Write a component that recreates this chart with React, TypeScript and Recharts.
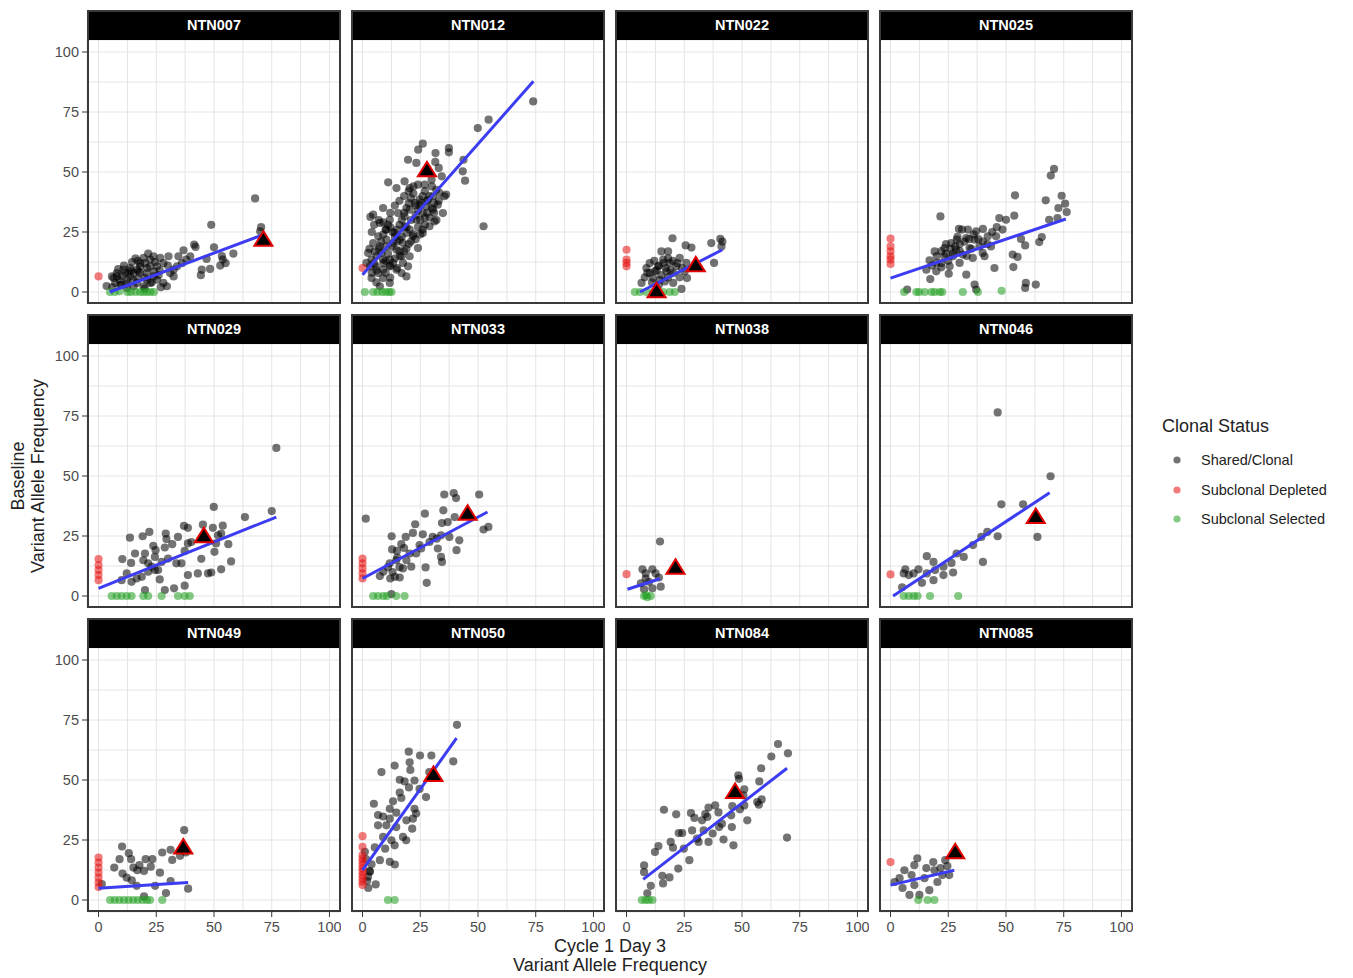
import React from 'react';
import { ScatterChart, Scatter, XAxis, YAxis, CartesianGrid } from 'recharts';

type Pt = [number, number];

const TICKS = [0, 12.5, 25, 37.5, 50, 62.5, 75, 87.5, 100];
const MAJOR = [0, 25, 50, 75, 100];

const statusLabels = ['Shared/Clonal', 'Subclonal Depleted', 'Subclonal Selected'];
const statusColors = ['#000000', '#e60f0f', '#1f9e1f'];

// values: [cycle 1 day 3 VAF, baseline VAF]
const ntn007Clonal: Pt[] = [
  [67.8, 39], [48.8, 28], [70.4, 27], [70, 25.3], [41.4, 19.7], [42, 18.8], [50, 18.6], [36.8, 17.4],
  [58.4, 16], [53.4, 15], [53.8, 13.5], [52.7, 11], [44.7, 9.3], [48.3, 9.6], [44.3, 7], [34, 10.7],
  [30.3, 14.9], [28.1, 12], [26.7, 14.2], [23.8, 14.9], [22.4, 13.5], [20.2, 12], [18, 10.7], [16.6, 9.3],
  [15.2, 7.9], [13.7, 6.5], [12.3, 5.1], [10.1, 6.5], [7.9, 7.9], [6.5, 5.8], [5.8, 6.5], [10.8, 9.3],
  [13.7, 10], [17.3, 8.6], [20.9, 7.9], [23.8, 6.5], [25.3, 5.1], [28.1, 3.8], [29.6, 2.4], [22.4, 3.8],
  [19.5, 2.4], [16.6, 3.8], [15.2, 2.4], [12.3, 1.7], [9.4, 3], [7.2, 3.8], [22.4, 10.7], [25.3, 10.7],
  [19.5, 14.2], [18, 12], [31, 7.9], [32.5, 9.3], [36.1, 12], [38, 13.5], [34.6, 14.9], [32.5, 6.5],
  [39.7, 14.9], [46.8, 13.8], [3.5, 2.5], [8.5, 9.5], [11.5, 8], [14.5, 12.5], [17, 5.5], [21, 5],
  [24, 8.5], [26.5, 9], [27, 2], [20, 1.5], [12, 3.5], [9, 5], [6, 2], [16, 14], [21.5, 16], [24.5, 12.5],
  [30, 11], [55, 12], [10, 3], [13, 8], [15, 5], [18, 8], [21, 10], [23, 4], [26, 7], [8, 6.5], [11, 11],
  [14, 9], [17, 13], [20, 6],
];
const ntn007Depleted: Pt[] = [[0, 6.5]];
const ntn007Selected: Pt[] = [[5, 0], [7, 0], [9, 0.3], [12.5, 0], [14, 0], [16, 0], [18, 0], [19.5, 0], [21, 0], [22.5, 0], [24, 0]];
const ntn007Marker: Pt[] = [[71.4, 21.8]];
const ntn007Fit: Pt[] = [[4.8, 0], [71.4, 23.9]];

const ntn012Clonal: Pt[] = [
  [73.9, 79.4], [54.6, 71.8], [49.9, 68.3], [52.4, 27.4], [44.4, 46.4], [43.4, 50.3], [43.7, 55.1], [37.4, 60],
  [37.4, 58.2], [31.6, 57.9], [31.5, 54.2], [26.1, 61.8], [24.1, 59.3], [19.7, 55.1], [23.3, 53.8], [18.2, 46.1],
  [11.1, 45.7], [14.7, 43.3], [20.4, 43.3], [24, 44.7], [26.9, 44.7], [29.9, 46.8], [33, 51.7], [34.3, 48.2],
  [35.5, 39.9], [33.3, 41.3], [32.6, 36.4], [30.5, 34.3], [27.6, 35.7], [24.7, 38.5], [22.6, 37.1], [20.4, 34.3],
  [18.2, 31.5], [15.4, 32.9], [11.8, 30.1], [8.9, 35], [4.6, 32.2], [3.4, 31.3], [7.5, 28.8], [10.3, 26],
  [6.8, 23.2], [4.6, 20.4], [2.4, 16.3], [3.9, 13.5], [5.7, 10.7], [3.9, 5.8], [8.9, 9.3], [13.2, 12.1],
  [16.1, 14.9], [19.7, 10.7], [19, 6.5], [24, 18.3], [21.8, 23.2], [26.1, 24.6], [29, 27.4], [31.2, 29.4],
  [34.8, 32.9], [36.2, 40.6], [19, 24.6], [16.1, 21.8], [13.2, 20.4], [10.3, 19], [8.2, 16.3], [11.8, 13.5],
  [14.7, 17.6], [17.5, 20.4], [20.4, 26], [23.3, 30.1], [26.1, 32.9], [28.3, 38.5], [30.5, 39.9], [31.9, 42.6],
  [25.4, 37.1], [18.2, 27.4], [13.9, 24.6], [10.3, 21.8], [7.5, 19], [5.3, 16.9], [8.9, 13.5], [11.8, 10.7],
  [14.7, 9.3], [17.5, 12.1], [20.4, 14.9], [16.9, 7.9], [8.9, 5.8], [11.8, 3.8], [7.5, 2.4], [6.8, 7.9],
  [3.2, 10.7], [1.7, 12.1], [6, 15], [7, 18], [8, 21], [9, 24], [10, 26], [11, 28], [12, 27], [13, 25],
  [14, 23], [15, 26], [16, 28], [17, 30], [18, 33], [19, 35], [20, 37], [21, 39], [22, 41], [23, 36],
  [24, 34], [25, 36], [26, 40], [27, 42], [28, 38], [29, 40], [30, 44], [5, 12], [6, 9], [9, 12], [11, 16],
  [13, 19], [15, 21], [17, 23], [19, 27], [21, 30], [23, 32], [25, 30], [27, 31], [20, 20], [18, 17],
  [14, 14], [12, 11], [10, 13], [16, 17], [22, 24], [24, 27], [26, 26], [28, 33], [30, 35], [31, 37], [33, 38],
  [4, 25], [5, 28], [7, 30], [9, 29], [12, 33], [14, 36], [16, 38], [18, 40], [20, 42], [22, 44], [3, 18],
  [4, 8], [6, 4], [10, 8], [12, 6], [15, 10], [17, 15], [19, 18], [21, 21], [23, 22], [25, 24], [27, 28],
  [29, 31], [31, 33], [32, 30],
];
const ntn012Depleted: Pt[] = [[0, 10]];
const ntn012Selected: Pt[] = [[1, 0], [4.6, 0], [6.5, 0], [8.5, 0], [10, 0], [11.5, 0], [12.5, 0]];
const ntn012Marker: Pt[] = [[27.9, 50.7]];
const ntn012Fit: Pt[] = [[0, 7.2], [74, 87.8]];

const ntn022Clonal: Pt[] = [
  [19.9, 22.4], [25.6, 19.4], [28.1, 18.5], [36.7, 20.4], [40.6, 22.1], [41.5, 21], [41.1, 19], [37.9, 12.1],
  [15.1, 16.9], [18, 16.9], [15.9, 13.5], [23, 14.2], [25.9, 12.1], [21.6, 10.7], [8.6, 10], [12.2, 8.6],
  [17.3, 8.6], [20.2, 7.9], [7.9, 6.1], [11.5, 5.8], [14.4, 5.1], [23, 6.1], [26.2, 5.8], [23.8, 1.3],
  [16.6, 4.4], [18.7, 12.1], [13.7, 10.7], [10.1, 7.9], [6.5, 3.8], [20.2, 3.8], [25.2, 8.6], [10, 12],
  [12, 13], [14, 11], [16, 12], [18, 14], [20, 13], [13, 9], [15, 7], [17, 10], [19, 9], [11, 4], [14, 3],
  [18, 6], [22, 12], [24, 10], [9, 8],
];
const ntn022Depleted: Pt[] = [[0, 17.6], [0, 13.5], [0, 12.1], [0, 10.7]];
const ntn022Selected: Pt[] = [[3.6, 0], [5.8, 0], [8.6, 0], [11.5, 0], [15.9, 0], [18.7, 0], [20.9, 0]];
const ntn022Marker: Pt[] = [[13, 0.3], [30, 11.1]];
const ntn022Fit: Pt[] = [[5.8, 0], [41.5, 17.6]];

const ntn025Clonal: Pt[] = [
  [70.8, 51.3], [69.4, 48.5], [53.9, 40.3], [74.1, 40.1], [75.6, 36.8], [67.2, 38.2], [72.7, 35], [76.3, 33.3],
  [72.3, 30.8], [68.7, 30.1], [21.6, 31.5], [65.5, 22.9], [64.4, 20.8], [58.3, 1.7], [62.9, 3.1], [53.2, 10.4],
  [52.9, 15.6], [55, 14.6], [58.3, 19.4], [56.5, 22.1], [53.6, 31.8], [50, 30.1], [47.1, 30.8], [48.5, 26],
  [45.7, 23.2], [42.1, 23.2], [40, 26.3], [37.1, 25.3], [33.5, 26], [29.6, 26.3], [32.8, 22.5], [36.4, 21.8],
  [38.5, 19], [40.7, 14.9], [45, 10], [32.8, 7.2], [36.4, 3.1], [37.1, 1], [17.2, 5.4], [16.9, 13.2],
  [19.1, 16.9], [23.4, 18.3], [26.3, 20.4], [28.4, 17.6], [31.3, 15.6], [29.9, 12.1], [25.2, 7.6], [22, 10.3],
  [19.8, 12.1], [27, 14.9], [34.2, 18.3], [39.9, 16.3], [35.6, 14.2], [28.7, 21.8], [23.4, 14.9], [25.6, 10.7],
  [15.5, 9.3], [19.8, 8.6], [43.5, 19], [7.2, 1], [58.6, 3.8], [20, 15], [22, 17], [24, 16], [26, 18],
  [28, 19], [30, 20], [32, 21], [34, 22], [36, 24], [38, 22], [30, 17], [27, 16], [25, 13], [22, 12],
  [18, 11], [35, 18], [40, 21], [42, 20], [44, 25], [46, 27], [33, 15], [29, 23], [31, 26], [24, 20],
];
const ntn025Depleted: Pt[] = [[0, 22.2], [0, 19], [0, 16.9], [0, 14.9], [0, 13.5], [0, 11.7]];
const ntn025Selected: Pt[] = [[5.9, 0], [11.2, 0], [12.4, 0], [14.8, 0], [17.7, 0], [19.1, 0], [21.3, 0], [22.4, 0], [31.3, 0], [37.8, 0], [48.1, 0.5]];
const ntn025Marker: Pt[] = [];
const ntn025Fit: Pt[] = [[0, 5.8], [75.9, 30.4]];

const ntn029Clonal: Pt[] = [
  [77, 61.7], [75, 35.4], [49.9, 37.1], [63.4, 32.9], [53.8, 29.3], [49.5, 28.4], [45.2, 29.7], [38.7, 28.4],
  [37, 29.2], [22, 26.7], [19.1, 24.9], [13.6, 24.3], [29.1, 26], [29.4, 23.7], [34.4, 24.6], [31.9, 21.6],
  [28.7, 20.2], [24.7, 19.1], [23.7, 20.9], [20.1, 17.7], [15.8, 17.7], [10.3, 15.4], [14.1, 13.8], [19.4, 14.9],
  [21.5, 13.6], [24.4, 16.3], [27.3, 14.2], [30.1, 15.6], [33.7, 13.6], [37.3, 18.8], [38.7, 21.9], [40.2, 22.5],
  [44.5, 15.5], [50.2, 18.4], [50.9, 21.9], [51.7, 25.3], [53.1, 26], [56.2, 21.6], [57.4, 14.4], [53.1, 11.1],
  [48.8, 9.8], [47.4, 9.4], [43, 9.4], [37.3, 4.3], [32.7, 3.2], [28.7, 2.5], [26.5, 6.9], [24.4, 10.8],
  [21.5, 10.1], [18.7, 8], [16.5, 7.3], [14.3, 5.9], [20.1, 2.5], [23, 12.2], [25.8, 10.8], [35.9, 13.6],
  [10, 6.6], [12.2, 9.4], [38.7, 8.7],
];
const ntn029Depleted: Pt[] = [[0, 15.4], [0, 12.9], [0, 10.8], [0, 8.7], [0, 6.6]];
const ntn029Selected: Pt[] = [[5.7, 0], [7.9, 0], [10, 0], [12.2, 0], [14.3, 0], [19.4, 0], [21.5, 0], [27.3, 0], [34.4, 0], [37.3, 0], [39.5, 0]];
const ntn029Marker: Pt[] = [[45.6, 24.9]];
const ntn029Fit: Pt[] = [[0, 3.2], [77, 32.9]];

const ntn033Clonal: Pt[] = [
  [1.4, 32.2], [35.4, 42.3], [39.5, 42.9], [40.5, 40.8], [50.5, 42.3], [52.4, 27.7], [54.5, 28.8], [27, 34.3],
  [35, 35.7], [39.9, 32.9], [34.4, 30.4], [22.8, 29.9], [26.1, 25.7], [21.8, 26.3], [18.7, 24.6], [12.6, 24.9],
  [16.8, 21.6], [14.9, 18.8], [12.8, 19.4], [20.4, 17.7], [25.4, 19.8], [29, 22.5], [32.1, 23.9], [37.6, 24.6],
  [41.9, 23.2], [40.7, 19.1], [34, 16.3], [34.4, 14.2], [27.3, 11.9], [27.8, 5.5], [21.1, 12.2], [17.5, 11.5],
  [14.6, 14.9], [11.8, 13.6], [9, 10.1], [7.5, 8.3], [12, 7.3], [16.1, 7.7], [19, 14.9], [23.2, 17.7],
  [24.7, 21.2], [30.4, 24.6], [36.9, 30.8], [34, 25.3], [32.6, 19.8], [15, 16], [16, 12], [13, 10], [18, 20],
  [14, 8], [11, 12], [12.5, 0.8],
];
const ntn033Depleted: Pt[] = [[0, 15.6], [0, 13.6], [0, 11.5], [0, 9.4], [0, 7.3]];
const ntn033Selected: Pt[] = [[4.6, 0], [6.7, 0], [9, 0], [10.6, 0], [14.6, 0], [18.2, 0]];
const ntn033Marker: Pt[] = [[45.5, 34.3]];
const ntn033Fit: Pt[] = [[0, 7.3], [54.1, 35]];

const ntn038Clonal: Pt[] = [
  [14.5, 22.7], [6.9, 11.1], [11.2, 11.1], [8.3, 9.4], [12.6, 9.4], [14, 7.7], [6.2, 5.3], [9.7, 5.9],
  [14.8, 3.9], [7.6, 2.8], [11.2, 3.2], [8.3, 7.3],
];
const ntn038Depleted: Pt[] = [[0, 9.1]];
const ntn038Selected: Pt[] = [[7.6, 0], [9, -0.5], [10.5, 0], [8.5, 0.4]];
const ntn038Marker: Pt[] = [[21.2, 11.8]];
const ntn038Fit: Pt[] = [[0.4, 2.8], [14.5, 7.2]];

const ntn046Clonal: Pt[] = [
  [46.4, 76.5], [69.3, 49.9], [48, 38.2], [57.4, 38.2], [63.6, 24.6], [41.9, 26.7], [46.4, 24.9], [39.3, 24.6],
  [35.7, 21.2], [40, 14.2], [31.7, 16.3], [28.6, 17.7], [26.4, 13.8], [27.1, 9.8], [22.9, 8.7], [19.3, 10.8],
  [15.7, 16.6], [18.6, 14.2], [12.1, 11.1], [6.4, 11.1], [7.9, 8.7], [5.7, 9.4], [10, 9.4], [13.6, 5.5],
  [18.6, 6.6], [5, 3.6], [22.9, 12.2], [15.7, 9.4],
];
const ntn046Depleted: Pt[] = [[0, 9]];
const ntn046Selected: Pt[] = [[5.7, 0], [7.9, 0], [10, 0], [11.7, 0], [17.1, 0], [29.3, 0]];
const ntn046Marker: Pt[] = [[62.9, 32.9]];
const ntn046Fit: Pt[] = [[1.1, 0], [68.9, 43]];

const ntn049Clonal: Pt[] = [
  [37.1, 29.1], [10.2, 22.3], [9.1, 17], [6.8, 13.5], [13.1, 19.5], [14.1, 17], [20.4, 17], [23.3, 17],
  [27.6, 19.8], [31.2, 20.9], [31.9, 16.7], [35.3, 18.4], [37.8, 19.8], [17.7, 14.5], [16.8, 12.4], [15.1, 13.5],
  [19.7, 12.1], [22.6, 13.9], [26.6, 11.4], [10.4, 11], [12.2, 9.3], [14.4, 8.2], [16.5, 5.9], [24.5, 5.9],
  [31.2, 7.9], [29.2, 2.9], [38.8, 4.7], [19.7, 1.5], [1.4, 6.6],
];
const ntn049Depleted: Pt[] = [[0, 17.7], [0, 15.6], [0, 13.5], [0, 11.4], [0, 9.3], [0, 7.3], [0, 5.4]];
const ntn049Selected: Pt[] = [[5, 0], [7, 0], [9, 0], [11, 0], [13, 0], [15, 0], [17, 0], [19, 0], [20.9, 0], [22.3, 0], [27.6, 0]];
const ntn049Marker: Pt[] = [[36.7, 21.9]];
const ntn049Fit: Pt[] = [[0, 4.9], [38.8, 7.3]];

const ntn050Clonal: Pt[] = [
  [40.9, 73], [39.3, 57.8], [29.8, 60.2], [24.9, 60.2], [20, 61.8], [20.4, 57.4], [20.7, 54.2], [13.9, 56],
  [8.2, 53.3], [28.9, 53.3], [16.1, 50.1], [18.2, 49.4], [22.5, 49.8], [24.7, 46.3], [20.1, 46.9], [16.1, 44.8],
  [16.8, 42.5], [27.5, 42.9], [4.9, 40.1], [13.2, 41.1], [11.8, 38], [22.5, 38], [23.2, 36], [6.7, 35.4],
  [8.9, 34.8], [6.7, 31.1], [11.8, 33.9], [19, 33.2], [14.6, 30.4], [21.5, 29.7], [17.5, 26.3], [8.9, 26.3],
  [12.5, 24.9], [13.9, 22.8], [9.8, 21.4], [7.5, 16.6], [11.8, 15.9], [14, 14.8], [3.2, 11.8], [5.7, 6.5],
  [2.4, 9.7], [1, 20.1], [18.9, 24.9], [21.8, 33.9], [14.6, 36.4], [10.3, 31.1], [5.3, 21.9], [3.9, 14.9],
  [2, 8], [3, 12], [1.5, 17], [2.5, 5],
];
const ntn050Depleted: Pt[] = [
  [0, 26.6], [0, 22.1], [0, 18.7], [0, 17.3], [0, 15.9], [0, 14.5], [0, 13.1], [0, 11.8], [0, 10.4], [0, 9], [0, 7.6], [0, 6.2],
];
const ntn050Selected: Pt[] = [[11, 0], [13.9, 0]];
const ntn050Marker: Pt[] = [[30.7, 52.1]];
const ntn050Fit: Pt[] = [[0, 12.4], [40.7, 67.4]];

const ntn084Clonal: Pt[] = [
  [65.6, 65], [62.7, 59.8], [69.9, 61.1], [58.3, 54.9], [48.4, 51.9], [48.7, 50.5], [57.5, 49.4], [51, 46.1],
  [49.1, 37.8], [51, 39.4], [56.6, 40.8], [58.5, 41.9], [57.3, 39.7], [52.3, 33.2], [45.8, 39.1], [45.3, 35.3],
  [45.6, 30.4], [46.3, 22.8], [69.5, 26], [42, 25.2], [35.5, 38.5], [38.4, 39.4], [35, 34.6], [32.7, 33.2],
  [29.4, 34.2], [27.9, 36.2], [28.4, 29], [30.5, 25.6], [33.4, 29], [35.5, 24.2], [40.1, 30.4], [37.3, 27.7],
  [41.3, 31.8], [16.2, 37.6], [21.5, 35.7], [22.6, 27.9], [24.1, 27.9], [19.1, 24.2], [20.1, 21.8], [13.8, 22.5],
  [12.3, 20], [24.8, 21.4], [27.2, 16.6], [22.4, 13.1], [15.5, 10.1], [18.6, 9.4], [15.8, 6.9], [10.5, 5.9],
  [7.6, 14.4], [7.6, 11.6], [9, 2.8], [31.2, 24.2], [39.8, 36.5], [34.1, 35.8], [50.6, 43.6],
];
const ntn084Depleted: Pt[] = [];
const ntn084Selected: Pt[] = [[6.6, 0], [8.2, 0], [9.6, 0], [11.2, 0]];
const ntn084Marker: Pt[] = [[47, 45]];
const ntn084Fit: Pt[] = [[7.2, 8.6], [69.5, 54.9]];

const ntn085Clonal: Pt[] = [
  [23.7, 16.6], [21.6, 13.3], [18.5, 15.8], [11.6, 17.4], [6, 12.4], [9.1, 10.4], [14.7, 9.1], [20.3, 7.5],
  [25.4, 10.4], [24.6, 14.1], [3.9, 9.1], [1.7, 7.5], [5.2, 5], [10.3, 6.2], [12.5, 2.1], [16.8, 4.1],
  [8.2, 2.1], [19, 12.4], [15.5, 13.3], [10.3, 14.5], [22.4, 10.4],
];
const ntn085Depleted: Pt[] = [[0, 15.8]];
const ntn085Selected: Pt[] = [[12, 0], [16, 0], [19, 0]];
const ntn085Marker: Pt[] = [[28, 19.9]];
const ntn085Fit: Pt[] = [[0, 6.2], [27.6, 12.4]];

const panels = [
  { name: 'NTN007', sets: [ntn007Clonal, ntn007Depleted, ntn007Selected], marker: ntn007Marker, fit: ntn007Fit },
  { name: 'NTN012', sets: [ntn012Clonal, ntn012Depleted, ntn012Selected], marker: ntn012Marker, fit: ntn012Fit },
  { name: 'NTN022', sets: [ntn022Clonal, ntn022Depleted, ntn022Selected], marker: ntn022Marker, fit: ntn022Fit },
  { name: 'NTN025', sets: [ntn025Clonal, ntn025Depleted, ntn025Selected], marker: ntn025Marker, fit: ntn025Fit },
  { name: 'NTN029', sets: [ntn029Clonal, ntn029Depleted, ntn029Selected], marker: ntn029Marker, fit: ntn029Fit },
  { name: 'NTN033', sets: [ntn033Clonal, ntn033Depleted, ntn033Selected], marker: ntn033Marker, fit: ntn033Fit },
  { name: 'NTN038', sets: [ntn038Clonal, ntn038Depleted, ntn038Selected], marker: ntn038Marker, fit: ntn038Fit },
  { name: 'NTN046', sets: [ntn046Clonal, ntn046Depleted, ntn046Selected], marker: ntn046Marker, fit: ntn046Fit },
  { name: 'NTN049', sets: [ntn049Clonal, ntn049Depleted, ntn049Selected], marker: ntn049Marker, fit: ntn049Fit },
  { name: 'NTN050', sets: [ntn050Clonal, ntn050Depleted, ntn050Selected], marker: ntn050Marker, fit: ntn050Fit },
  { name: 'NTN084', sets: [ntn084Clonal, ntn084Depleted, ntn084Selected], marker: ntn084Marker, fit: ntn084Fit },
  { name: 'NTN085', sets: [ntn085Clonal, ntn085Depleted, ntn085Selected], marker: ntn085Marker, fit: ntn085Fit },
];

const FONT = '"Liberation Sans", Arial, sans-serif';
const COL_X = [87, 351, 615, 879];
const ROW_Y = [10, 314, 618];
const PANEL_W = 254;
const STRIP_H = 30;
const PLOT_H = 264;
const Y_AXIS_W = 45;
const X_AXIS_H = 30;
const TICK_LEN = 5;
const TICK_GAP = 3;

const toObj = (pts: Pt[]) => pts.map(([x, y]) => ({ x, y }));

const dot = (color: string) => (props: any) => (
  <circle cx={props.cx} cy={props.cy} r={4.1} fill={color} fillOpacity={0.55} />
);

const triangle = (props: any) => {
  const { cx, cy } = props;
  return (
    <polygon
      points={`${cx},${cy - 8.5} ${cx - 9},${cy + 6} ${cx + 9},${cy + 6}`}
      fill="#000"
      stroke="#e00000"
      strokeWidth={2}
      strokeLinejoin="miter"
    />
  );
};

const XTick = (props: any) => {
  const { x, y, payload } = props;
  if (!MAJOR.includes(payload.value)) return <g />;
  return (
    <g>
      <line x1={x} x2={x} y1={y - TICK_GAP - TICK_LEN} y2={y - TICK_GAP} stroke="#333" strokeWidth={1} />
      <text x={x} y={y + 12} textAnchor="middle" fill="#4d4d4d" fontSize={14.5} fontFamily={FONT}>
        {payload.value}
      </text>
    </g>
  );
};

const YTick = (props: any) => {
  const { x, y, payload } = props;
  if (!MAJOR.includes(payload.value)) return <g />;
  return (
    <g>
      <line x1={x + TICK_GAP} x2={x + TICK_GAP + TICK_LEN} y1={y} y2={y} stroke="#333" strokeWidth={1} />
      <text x={x} y={y + 5} textAnchor="end" fill="#4d4d4d" fontSize={14.5} fontFamily={FONT}>
        {payload.value}
      </text>
    </g>
  );
};

function Panel({ panel, idx }: { panel: (typeof panels)[number]; idx: number }) {
  const col = idx % 4;
  const row = Math.floor(idx / 4);
  const showY = col === 0;
  const showX = row === 2;
  const left = COL_X[col] - (showY ? Y_AXIS_W : 0);
  const top = ROW_Y[row] + STRIP_H;
  const w = PANEL_W + (showY ? Y_AXIS_W : 0);
  const h = PLOT_H + (showX ? X_AXIS_H : 0);

  return (
    <>
      <div style={{ position: 'absolute', left, top, width: w, height: h }}>
        <ScatterChart width={w} height={h} margin={{ top: 0, right: 0, bottom: 0, left: 0 }}>
          <CartesianGrid stroke="#e4e4e4" strokeWidth={1} />
          <XAxis
            type="number"
            dataKey="x"
            domain={[-5, 105]}
            ticks={TICKS}
            interval={0}
            hide={!showX}
            height={X_AXIS_H}
            axisLine={false}
            tickLine={false}
            tickSize={TICK_LEN}
            tickMargin={TICK_GAP}
            tick={XTick}
          />
          <YAxis
            type="number"
            dataKey="y"
            domain={[-5, 105]}
            ticks={TICKS}
            interval={0}
            hide={!showY}
            width={Y_AXIS_W}
            axisLine={false}
            tickLine={false}
            tickSize={TICK_LEN}
            tickMargin={TICK_GAP}
            tick={YTick}
          />
          {panel.sets.map((s, i) => (
            <Scatter key={i} data={toObj(s)} shape={dot(statusColors[i])} isAnimationActive={false} />
          ))}
          <Scatter
            data={toObj(panel.fit)}
            line={{ stroke: '#3c3cf2', strokeWidth: 3 }}
            shape={() => <g />}
            isAnimationActive={false}
          />
          <Scatter data={toObj(panel.marker)} shape={triangle} isAnimationActive={false} />
        </ScatterChart>
      </div>
      <div
        style={{
          position: 'absolute',
          left: COL_X[col],
          top: ROW_Y[row],
          width: PANEL_W,
          height: STRIP_H + PLOT_H,
          border: '2px solid #3a3a3a',
          boxSizing: 'border-box',
          pointerEvents: 'none',
        }}
      >
        <div
          style={{
            height: STRIP_H - 2,
            background: '#000',
            color: '#fff',
            fontFamily: FONT,
            fontWeight: 'bold',
            fontSize: 14.5,
            lineHeight: `${STRIP_H - 4}px`,
            textAlign: 'center',
          }}
        >
          {panel.name}
        </div>
      </div>
    </>
  );
}

export default function App() {
  return (
    <div style={{ position: 'absolute', left: 0, top: 0, width: 1353, height: 978, background: '#fff', fontFamily: FONT }}>
      {panels.map((p, i) => (
        <Panel key={p.name} panel={p} idx={i} />
      ))}

      <div
        style={{
          position: 'absolute',
          left: 28,
          top: 476,
          width: 320,
          transform: 'translate(-50%, -50%) rotate(-90deg)',
          textAlign: 'center',
          fontSize: 18,
          lineHeight: '20px',
          color: '#222',
        }}
      >
        Baseline
        <br />
        Variant Allele Frequency
      </div>

      <div
        style={{
          position: 'absolute',
          left: 610,
          top: 937,
          transform: 'translateX(-50%)',
          textAlign: 'center',
          fontSize: 18,
          lineHeight: '19px',
          color: '#222',
          whiteSpace: 'nowrap',
        }}
      >
        Cycle 1 Day 3
        <br />
        Variant Allele Frequency
      </div>

      <div style={{ position: 'absolute', left: 1162, top: 416, fontSize: 18, color: '#222', whiteSpace: 'nowrap' }}>
        Clonal Status
      </div>
      {statusLabels.map((label, i) => (
        <div
          key={label}
          style={{ position: 'absolute', left: 1170, top: 451 + i * 29.5, height: 18, display: 'flex', alignItems: 'center' }}
        >
          <svg width={16} height={16}>
            <circle cx={7} cy={8} r={3.6} fill={statusColors[i]} fillOpacity={0.55} />
          </svg>
          <span style={{ marginLeft: 15, fontSize: 14.5, color: '#222', whiteSpace: 'nowrap' }}>{label}</span>
        </div>
      ))}
    </div>
  );
}
